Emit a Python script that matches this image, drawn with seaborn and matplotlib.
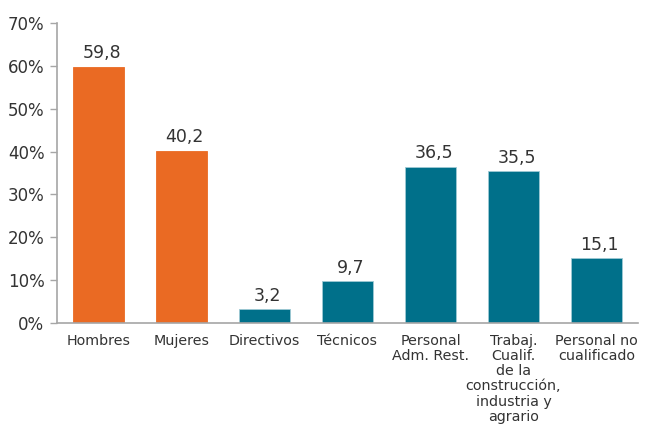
import matplotlib
matplotlib.use("Agg")
import matplotlib.pyplot as plt
import seaborn as sns
import pandas as pd
import numpy as np

categories = ["Hombres", "Mujeres", "Directivos", "Técnicos", "Personal\nAdm. Rest.",
              "Trabaj.\nCualif.\nde la\nconstrucción,\nindustria y\nagrario",
              "Personal no\ncualificado"]
values = [59.8, 40.2, 3.2, 9.7, 36.5, 35.5, 15.1]
groups = ["sexo", "sexo", "ocup", "ocup", "ocup", "ocup", "ocup"]
value_labels = ["59,8", "40,2", "3,2", "9,7", "36,5", "35,5", "15,1"]
yticks = [0, 10, 20, 30, 40, 50, 60, 70]

sns.set_style("white")
plt.rcParams['font.family'] = ['DejaVu Sans']

df = pd.DataFrame({"cat": categories, "val": values, "grp": groups})
palette = {"sexo": "#EA6A23", "ocup": "#00708A"}

fig = plt.figure(figsize=(6.46, 4.25), dpi=100)
ax = fig.add_axes([0.0882, 0.24, 0.8994, 0.7059])
sns.barplot(data=df, x="cat", y="val", hue="grp", palette=palette, dodge=False,
            width=0.62, legend=False, ax=ax, saturation=1,
            edgecolor="#9fc9d4", linewidth=0.6)
for p in ax.patches[:2]:
    p.set_edgecolor("#EA6A23")

for i, (v, lab) in enumerate(zip(values, value_labels)):
    ax.text(i + 0.04, v + 1.0, lab, ha="center", va="bottom", fontsize=12.5, color="#333333")

ax.set_ylim(0, 70)
ax.set_xlim(-0.5, len(categories) - 0.5)
ax.set_yticks(yticks)
ax.set_yticklabels([f"{t}%" for t in yticks], fontsize=12, color="#333333")
ax.set_xlabel("")
ax.set_ylabel("")
ax.tick_params(axis="x", which="major", length=0, pad=8, labelsize=10.3, labelcolor="#333333")
ax.set_xticks(np.arange(-0.5, len(categories), 1.0), minor=True)
ax.tick_params(axis="x", which="minor", length=5, color="#A6A6A6", width=1)
ax.tick_params(axis="y", length=5, color="#A6A6A6", width=1, left=True, pad=4)
for lbl in ax.get_xticklabels():
    lbl.set_linespacing(1.1)
for s in ["top", "right"]:
    ax.spines[s].set_visible(False)
for s in ["left", "bottom"]:
    ax.spines[s].set_color("#A6A6A6")
    ax.spines[s].set_linewidth(1.2)

fig.savefig("out.png", dpi=100)
